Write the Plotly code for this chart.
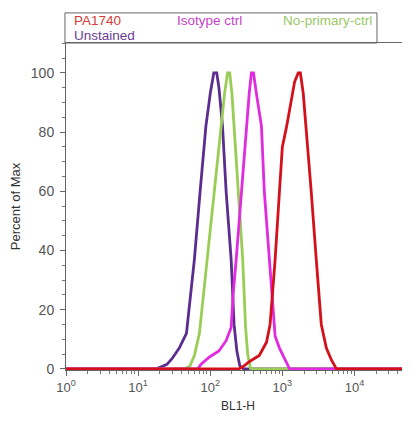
import plotly.graph_objects as go

# ---- data (x in BL1-H units, y in percent of max) ----
unstained_x = [1, 17.8, 21.4, 25.1, 29.5, 37.2, 46.8, 53.7, 60.3, 72.4, 87.1, 100, 112, 123, 132, 148, 166, 195, 214, 234, 257, 288, 60000]
unstained_y = [0, 0, 0.8, 1.5, 3.4, 7, 12, 25, 37, 60, 82, 93, 100, 100, 95, 82, 60, 37, 15, 6, 1, 0, 0]

noprim_x = [1, 44.7, 52.5, 60.3, 70.8, 91.2, 115, 141, 158, 174, 186, 200, 214, 245, 282, 309, 331, 363, 60000]
noprim_y = [0, 0, 1, 4.5, 12, 37, 60, 82, 93, 100, 100, 93, 82, 60, 37, 14, 5, 0, 0]

isotype_x = [1, 67.6, 74.1, 97.7, 132, 166, 195, 209, 229, 269, 316, 347, 372, 398, 437, 513, 562, 661, 724, 794, 912, 1047, 1202, 1259, 60000]
isotype_y = [0, 0, 1.5, 4, 6, 9.5, 14, 26, 37, 60, 82, 93, 100, 100, 93, 82, 60, 37, 22, 11, 7, 4, 0.5, 0, 0]

pa1740_x = [1, 251, 295, 347, 479, 603, 676, 794, 912, 1000, 1148, 1318, 1479, 1660, 1778, 1950, 2138, 2512, 2951, 3467, 4074, 4786, 5623, 60000]
pa1740_y = [0, 0, 1, 2.4, 4.5, 9, 15, 37, 60, 75, 82, 90, 97, 100, 100, 93, 82, 60, 37, 15, 7, 3, 0, 0]

series_names = ["Unstained", "No-primary-ctrl", "Isotype ctrl", "PA1740"]
line_colors = ["#5b2d8e", "#9acd55", "#e02be0", "#d4101a"]
text_colors = ["#6a3d95", "#9bc866", "#c63fc9", "#d63a3a"]

x_tick_vals = [1, 10, 100, 1000, 10000]
x_tick_text = ["10<sup>0</sup>", "10<sup>1</sup>", "10<sup>2</sup>", "10<sup>3</sup>", "10<sup>4</sup>"]
x_minor_vals = [m * 10 ** e for e in range(0, 5) for m in range(2, 10)]
y_tick_vals = [0, 20, 40, 60, 80, 100]

font_family = "Liberation Sans, Arial, sans-serif"

fig = go.Figure()
all_x = [unstained_x, noprim_x, isotype_x, pa1740_x]
all_y = [unstained_y, noprim_y, isotype_y, pa1740_y]
for name, xs, ys, c in zip(series_names, all_x, all_y, line_colors):
    fig.add_trace(go.Scatter(x=xs, y=ys, mode="lines", name=name,
                             line=dict(color=c, width=2.8), showlegend=False))

# page body has an 8px margin, so the figure is sized/offset to compensate
fig.update_layout(
    width=402, height=417,
    margin=dict(l=58, r=0, t=35, b=55),
    paper_bgcolor="white", plot_bgcolor="white",
    font=dict(family=font_family, color="#555555"),
)
fig.update_xaxes(
    type="log", range=[0, 4.77],
    tickmode="array", tickvals=x_tick_vals, ticktext=x_tick_text,
    tickfont=dict(size=13, color="#555555"),
    ticks="outside", ticklen=5, tickcolor="#666666",
    minor=dict(tickvals=x_minor_vals, ticks="outside", ticklen=3, tickcolor="#777777"),
    showline=True, linecolor="#666666", linewidth=1, mirror=True,
    showgrid=False, zeroline=False,
    title=dict(text="BL1-H", font=dict(size=12, color="#333333"), standoff=8),
)
fig.update_yaxes(
    range=[-0.4, 110.1],
    tickmode="array", tickvals=y_tick_vals,
    tickfont=dict(size=14, color="#555555"),
    ticks="outside", ticklen=5, tickcolor="#666666",
    minor=dict(dtick=5, ticks="outside", ticklen=3, tickcolor="#777777"),
    ticklabelstandoff=3,
    showline=True, linecolor="#666666", linewidth=1,
    showgrid=False, zeroline=False,
    title=dict(text="Percent of Max", font=dict(size=13, color="#333333"), standoff=8),
)

# legend box
fig.add_shape(type="rect", xref="paper", yref="paper", x0=-0.003, x1=0.904, y0=1.0, y1=1.092,
              line=dict(color="#666666", width=1))
legend_pos = {
    "PA1740": (0.017, 1.070),
    "Isotype ctrl": (0.317, 1.070),
    "No-primary-ctrl": (0.625, 1.070),
    "Unstained": (0.017, 1.022),
}
for name, tc in zip(series_names, text_colors):
    lx, ly = legend_pos[name]
    fig.add_annotation(text=name, xref="paper", yref="paper", x=lx, y=ly,
                       xanchor="left", yanchor="middle", showarrow=False,
                       font=dict(size=13.5, color=tc, family=font_family))

fig.write_html("out.html")
